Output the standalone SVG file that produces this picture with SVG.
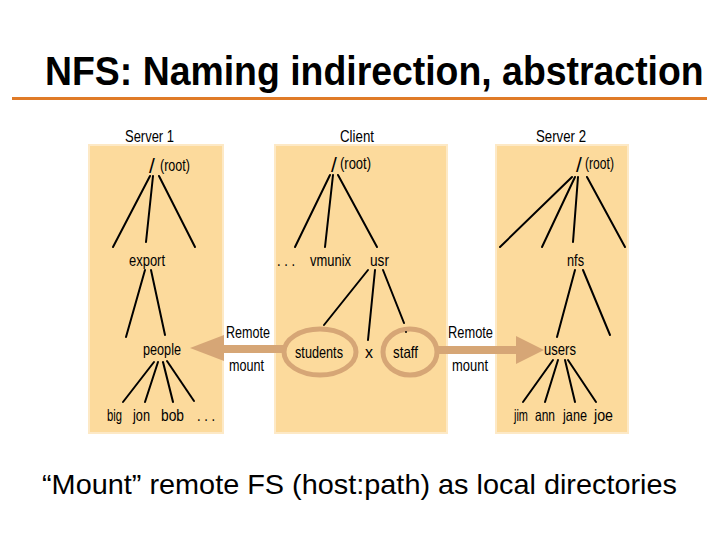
<svg xmlns="http://www.w3.org/2000/svg" width="720" height="540" viewBox="0 0 720 540">
<style>
.panel{fill:#FCDA9C;stroke:#FDE9C6;stroke-width:2}
.t{font-family:"Liberation Sans",Arial,sans-serif;font-size:16.5px;fill:#000}
.h{font-family:"Liberation Sans",Arial,sans-serif;font-size:16.5px;fill:#000}
.sl{font-family:"Liberation Sans",Arial,sans-serif;font-size:21px;fill:#000}
.e{stroke:#000;stroke-width:2;fill:none;stroke-linecap:round}
.ring{fill:none;stroke:#D6A676;stroke-width:5}
.arr{fill:#D6A676}
</style>
<rect width="720" height="540" fill="#fff"/>
<g id="title">
<text transform="translate(45,85) scale(0.935,1)" x="0" y="0" font-family="Liberation Sans,Arial,sans-serif" font-weight="bold" font-size="40">NFS: Naming indirection, abstraction</text>
<rect x="12" y="97" width="695" height="3" fill="#E07B28"/>
</g>
<g id="server1">
<rect class="panel" x="89" y="145" width="134" height="288"/>
<text class="h" x="125" y="142" textLength="49" lengthAdjust="spacingAndGlyphs">Server 1</text>
<text class="sl" x="149" y="173">/</text>
<text class="t" x="160" y="171" textLength="30" lengthAdjust="spacingAndGlyphs">(root)</text>
<text class="t" x="129" y="266" textLength="36" lengthAdjust="spacingAndGlyphs">export</text>
<text class="t" x="143" y="355" textLength="38" lengthAdjust="spacingAndGlyphs">people</text>
<text class="t" x="107" y="421" textLength="15" lengthAdjust="spacingAndGlyphs">big</text>
<text class="t" x="133" y="421" textLength="17" lengthAdjust="spacingAndGlyphs">jon</text>
<text class="t" x="161" y="421" textLength="23" lengthAdjust="spacingAndGlyphs">bob</text>
<text class="t" x="197" y="421" textLength="18" lengthAdjust="spacingAndGlyphs">. . .</text>
</g>
<g id="client">
<rect class="panel" x="275" y="145" width="172" height="288"/>
<text class="h" x="340" y="142" textLength="34" lengthAdjust="spacingAndGlyphs">Client</text>
<text class="sl" x="331" y="172">/</text>
<text class="t" x="340" y="169" textLength="31" lengthAdjust="spacingAndGlyphs">(root)</text>
<text class="t" x="277" y="266" textLength="18" lengthAdjust="spacingAndGlyphs">. . .</text>
<text class="t" x="310" y="266" textLength="41" lengthAdjust="spacingAndGlyphs">vmunix</text>
<text class="t" x="370" y="266" textLength="19" lengthAdjust="spacingAndGlyphs">usr</text>
<ellipse class="ring" cx="320" cy="352" rx="36" ry="23"/>
<ellipse class="ring" cx="410" cy="352" rx="27" ry="23"/>
<text class="t" x="295" y="358" textLength="48" lengthAdjust="spacingAndGlyphs">students</text>
<text class="t" x="365" y="358" textLength="8" lengthAdjust="spacingAndGlyphs">x</text>
<text class="t" x="393" y="358" textLength="25" lengthAdjust="spacingAndGlyphs">staff</text>
</g>
<g id="server2">
<rect class="panel" x="496" y="145" width="132" height="288"/>
<text class="h" x="536" y="142" textLength="50" lengthAdjust="spacingAndGlyphs">Server 2</text>
<text class="sl" x="576" y="172">/</text>
<text class="t" x="585" y="169" textLength="29" lengthAdjust="spacingAndGlyphs">(root)</text>
<text class="t" x="567" y="266" textLength="17" lengthAdjust="spacingAndGlyphs">nfs</text>
<text class="t" x="544" y="355" textLength="32" lengthAdjust="spacingAndGlyphs">users</text>
<text class="t" x="514" y="421" textLength="14" lengthAdjust="spacingAndGlyphs">jim</text>
<text class="t" x="535" y="421" textLength="20" lengthAdjust="spacingAndGlyphs">ann</text>
<text class="t" x="563" y="421" textLength="24" lengthAdjust="spacingAndGlyphs">jane</text>
<text class="t" x="594" y="421" textLength="19" lengthAdjust="spacingAndGlyphs">joe</text>
</g>
<g id="connectors">
<line class="e" x1="150" y1="176" x2="113" y2="247"/>
<line class="e" x1="153" y1="176" x2="146" y2="242"/>
<line class="e" x1="159" y1="176" x2="195" y2="247"/>
<line class="e" x1="145" y1="270" x2="126" y2="337"/>
<line class="e" x1="151" y1="270" x2="165" y2="335"/>
<line class="e" x1="154" y1="362" x2="123" y2="402"/>
<line class="e" x1="158" y1="362" x2="145" y2="402"/>
<line class="e" x1="163" y1="362" x2="173" y2="402"/>
<line class="e" x1="167" y1="361" x2="194" y2="401"/>
<line class="e" x1="330" y1="175" x2="295" y2="247"/>
<line class="e" x1="333" y1="175" x2="325" y2="247"/>
<line class="e" x1="338" y1="175" x2="377" y2="247"/>
<line class="e" x1="368" y1="270" x2="324" y2="325"/>
<line class="e" x1="375" y1="270" x2="368" y2="340"/>
<line class="e" x1="383" y1="270" x2="404" y2="323"/>
<circle cx="406" cy="332" r="1" fill="#000"/>
<line class="e" x1="572" y1="177" x2="500" y2="247"/>
<line class="e" x1="575" y1="177" x2="542" y2="247"/>
<line class="e" x1="578" y1="177" x2="573" y2="242"/>
<line class="e" x1="587" y1="177" x2="625" y2="247"/>
<line class="e" x1="575" y1="270" x2="557" y2="337"/>
<line class="e" x1="583" y1="270" x2="610" y2="335"/>
<line class="e" x1="553" y1="360" x2="523" y2="402"/>
<line class="e" x1="558" y1="360" x2="545" y2="402"/>
<line class="e" x1="565" y1="360" x2="575" y2="402"/>
<line class="e" x1="568" y1="360" x2="596" y2="402"/>
<rect class="arr" x="220" y="345" width="64" height="8"/>
<polygon class="arr" points="190,348 224,335 224,361"/>
<rect class="arr" x="436" y="346" width="84" height="8"/>
<polygon class="arr" points="544,350 516,336 516,364"/>
<text class="t" x="226" y="338" textLength="44" lengthAdjust="spacingAndGlyphs">Remote</text>
<text class="t" x="229" y="371" textLength="35" lengthAdjust="spacingAndGlyphs">mount</text>
<text class="t" x="448" y="338" textLength="45" lengthAdjust="spacingAndGlyphs">Remote</text>
<text class="t" x="452" y="371" textLength="36" lengthAdjust="spacingAndGlyphs">mount</text>
</g>
<g id="caption">
<text x="42" y="494" font-family="Liberation Sans,Arial,sans-serif" font-size="28" textLength="635" lengthAdjust="spacingAndGlyphs">“Mount” remote FS (host:path) as local directories</text>
</g>
</svg>
